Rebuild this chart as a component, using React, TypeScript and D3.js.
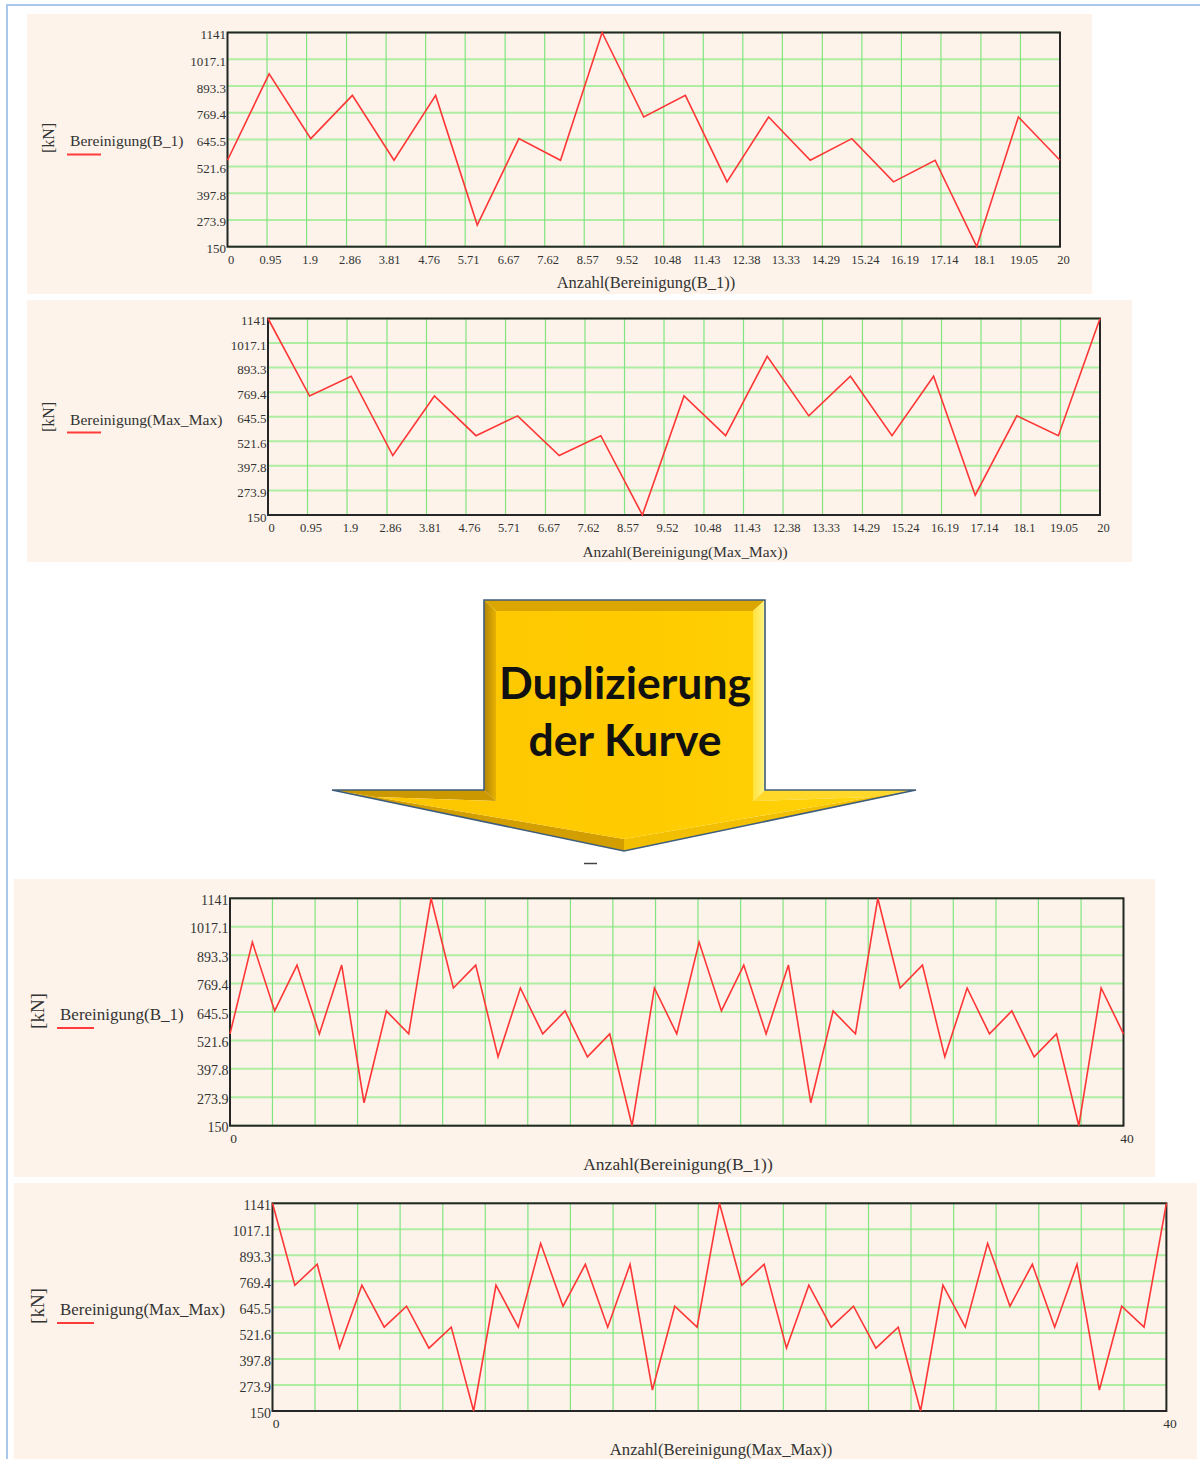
import React from "react";
import * as d3 from "d3";

// ---------- data ----------
const Y_TICKS = [150, 273.9, 397.8, 521.6, 645.5, 769.4, 893.3, 1017.1, 1141];
const Y_TICK_LABELS = ["150", "273.9", "397.8", "521.6", "645.5", "769.4", "893.3", "1017.1", "1141"];

const X_TICKS_20 = [0, 0.95, 1.9, 2.86, 3.81, 4.76, 5.71, 6.67, 7.62, 8.57, 9.52, 10.48, 11.43, 12.38, 13.33, 14.29, 15.24, 16.19, 17.14, 18.1, 19.05, 20];
const X_TICK_LABELS_20 = ["0", "0.95", "1.9", "2.86", "3.81", "4.76", "5.71", "6.67", "7.62", "8.57", "9.52", "10.48", "11.43", "12.38", "13.33", "14.29", "15.24", "16.19", "17.14", "18.1", "19.05", "20"];

const X_GRID_40 = [0, 1.9, 3.81, 5.71, 7.62, 9.52, 11.43, 13.33, 15.24, 17.14, 19.05, 20.95, 22.86, 24.76, 26.67, 28.57, 30.48, 32.38, 34.29, 36.19, 38.1, 40];
const X_TICKS_40 = [0, 40];
const X_TICK_LABELS_40 = ["0", "40"];

const BEREINIGUNG_B1 = [550, 950, 650, 850, 550, 850, 250, 650, 550, 1141, 750, 850, 450, 750, 550, 650, 450, 550, 150, 750, 550];
const BEREINIGUNG_MAXMAX = [1141, 750, 850, 450, 750, 550, 650, 450, 550, 150, 750, 550, 950, 650, 850, 550, 850, 250, 650, 550, 1141];

const BEREINIGUNG_B1_DUP = [
  550, 950, 650, 850, 550, 850, 250, 650, 550, 1141, 750, 850, 450, 750, 550, 650, 450, 550, 150, 750, 550,
  950, 650, 850, 550, 850, 250, 650, 550, 1141, 750, 850, 450, 750, 550, 650, 450, 550, 150, 750, 550,
];
const BEREINIGUNG_MAXMAX_DUP = [
  1141, 750, 850, 450, 750, 550, 650, 450, 550, 150, 750, 550, 950, 650, 850, 550, 850, 250, 650, 550, 1141,
  750, 850, 450, 750, 550, 650, 450, 550, 150, 750, 550, 950, 650, 850, 550, 850, 250, 650, 550, 1141,
];

const LEGEND_B1 = "Bereinigung(B_1)";
const LEGEND_MAXMAX = "Bereinigung(Max_Max)";
const TITLE_B1 = "Anzahl(Bereinigung(B_1))";
const TITLE_MAXMAX = "Anzahl(Bereinigung(Max_Max))";
const UNIT = "[kN]";
const ARROW_LINES = ["Duplizierung", "der Kurve"];

// ---------- layout ----------
const SERIF = "'Liberation Serif', 'Times New Roman', serif";

type PanelCfg = {
  bg: { x: number; y: number; w: number; h: number };
  plot: { x0: number; x1: number; y0: number; y1: number };
  xMax: number;
  values: number[];
  grid: number[];
  xTicks: number[];
  xTickLabels: string[];
  legend: string;
  title: string;
  unit: { x: number; y: number; size: number };
  leg: { x: number; y: number; size: number; l0: number; l1: number; ly: number };
  yTickSize: number;
  xTickSize: number;
  xTickY: number;
  titlePos: { x: number; y: number; size: number };
};

const PANELS: PanelCfg[] = [
  {
    bg: { x: 27, y: 14, w: 1065, h: 280 },
    plot: { x0: 227.5, x1: 1060, y0: 32.5, y1: 246.7 },
    xMax: 20,
    values: BEREINIGUNG_B1,
    grid: X_TICKS_20,
    xTicks: X_TICKS_20,
    xTickLabels: X_TICK_LABELS_20,
    legend: LEGEND_B1,
    title: TITLE_B1,
    unit: { x: 48, y: 138, size: 16 },
    leg: { x: 70, y: 146, size: 15.6, l0: 67, l1: 101, ly: 154.5 },
    yTickSize: 13,
    xTickSize: 12.5,
    xTickY: 264,
    titlePos: { x: 646, y: 288, size: 16.5 },
  },
  {
    bg: { x: 27, y: 300, w: 1105, h: 262 },
    plot: { x0: 268, x1: 1100, y0: 318.5, y1: 515 },
    xMax: 20,
    values: BEREINIGUNG_MAXMAX,
    grid: X_TICKS_20,
    xTicks: X_TICKS_20,
    xTickLabels: X_TICK_LABELS_20,
    legend: LEGEND_MAXMAX,
    title: TITLE_MAXMAX,
    unit: { x: 48, y: 417, size: 16 },
    leg: { x: 70, y: 425, size: 15.6, l0: 67, l1: 101, ly: 432.5 },
    yTickSize: 13,
    xTickSize: 12.5,
    xTickY: 532,
    titlePos: { x: 685, y: 557, size: 15.4 },
  },
  {
    bg: { x: 14, y: 879, w: 1141, h: 298 },
    plot: { x0: 230, x1: 1123.5, y0: 898.3, y1: 1125.7 },
    xMax: 40,
    values: BEREINIGUNG_B1_DUP,
    grid: X_GRID_40,
    xTicks: X_TICKS_40,
    xTickLabels: X_TICK_LABELS_40,
    legend: LEGEND_B1,
    title: TITLE_B1,
    unit: { x: 37.5, y: 1011, size: 19 },
    leg: { x: 60, y: 1020, size: 17, l0: 57, l1: 94, ly: 1028 },
    yTickSize: 14,
    xTickSize: 13.5,
    xTickY: 1143,
    titlePos: { x: 678, y: 1170, size: 17.5 },
  },
  {
    bg: { x: 14, y: 1183, w: 1183, h: 276 },
    plot: { x0: 272.5, x1: 1166.4, y0: 1203.3, y1: 1411 },
    xMax: 40,
    values: BEREINIGUNG_MAXMAX_DUP,
    grid: X_GRID_40,
    xTicks: X_TICKS_40,
    xTickLabels: X_TICK_LABELS_40,
    legend: LEGEND_MAXMAX,
    title: TITLE_MAXMAX,
    unit: { x: 37.5, y: 1306, size: 19 },
    leg: { x: 60, y: 1315, size: 16.9, l0: 57, l1: 94, ly: 1323 },
    yTickSize: 14,
    xTickSize: 13.5,
    xTickY: 1428,
    titlePos: { x: 721, y: 1455, size: 16.7 },
  },
];

function Panel({ cfg }: { cfg: PanelCfg }) {
  const x = d3.scaleLinear().domain([0, cfg.xMax]).range([cfg.plot.x0, cfg.plot.x1]);
  const y = d3.scaleLinear().domain([150, 1141]).range([cfg.plot.y1, cfg.plot.y0]);
  const line = d3
    .line<number>()
    .x((_, i) => x(i))
    .y((d) => y(d));
  const { x0, x1, y0, y1 } = cfg.plot;
  return (
    <g>
      <rect x={cfg.bg.x} y={cfg.bg.y} width={cfg.bg.w} height={cfg.bg.h} fill="#fdf3ea" />
      {/* grid */}
      {Y_TICKS.map((t, i) => (
        <line key={"h" + i} x1={x0} x2={x1} y1={y(t)} y2={y(t)} stroke="#aeeea2" strokeWidth={2} />
      ))}
      {cfg.grid.map((t, i) => (
        <line key={"v" + i} x1={x(t)} x2={x(t)} y1={y0} y2={y1} stroke="#80e580" strokeWidth={1.2} />
      ))}
      {/* frame */}
      <rect x={x0} y={y0} width={x1 - x0} height={y1 - y0} fill="none" stroke="#262626" strokeWidth={2} />
      {/* y tick labels */}
      {Y_TICKS.map((t, i) => (
        <text
          key={"yl" + i}
          x={x0 - 1.5}
          y={y(t) + 6.5}
          textAnchor="end"
          fontFamily={SERIF}
          fontSize={cfg.yTickSize}
          fill="#333"
        >
          {Y_TICK_LABELS[i]}
        </text>
      ))}
      {/* x tick labels */}
      {cfg.xTicks.map((t, i) => (
        <text
          key={"xl" + i}
          x={x(t) + 3.5}
          y={cfg.xTickY}
          textAnchor="middle"
          fontFamily={SERIF}
          fontSize={cfg.xTickSize}
          fill="#333"
        >
          {cfg.xTickLabels[i]}
        </text>
      ))}
      {/* axis title */}
      <text
        x={cfg.titlePos.x}
        y={cfg.titlePos.y}
        textAnchor="middle"
        fontFamily={SERIF}
        fontSize={cfg.titlePos.size}
        fill="#333"
      >
        {cfg.title}
      </text>
      {/* unit */}
      <text
        transform={`translate(${cfg.unit.x},${cfg.unit.y}) rotate(-90)`}
        textAnchor="middle"
        dominantBaseline="central"
        fontFamily={SERIF}
        fontSize={cfg.unit.size}
        fill="#333"
      >
        {UNIT}
      </text>
      {/* legend */}
      <text x={cfg.leg.x} y={cfg.leg.y} fontFamily={SERIF} fontSize={cfg.leg.size} fill="#333">
        {cfg.legend}
      </text>
      <line x1={cfg.leg.l0} x2={cfg.leg.l1} y1={cfg.leg.ly} y2={cfg.leg.ly} stroke="#ff3b3b" strokeWidth={2.2} />
      {/* series */}
      <path d={line(cfg.values) || ""} fill="none" stroke="#ff3636" strokeWidth={1.6} strokeLinejoin="miter" />
    </g>
  );
}

function Arrow() {
  // outer shape
  const A = [484, 600], B = [765, 600], C = [765, 790], D = [916, 790], E = [624, 851], F = [332, 790], G = [484, 790];
  // inner (bevel) shape
  const a = [496, 611], b = [753, 611], c = [753, 801], d = [872, 797], e = [624, 839], f = [376, 797], g = [496, 801];
  const pts = (arr: number[][]) => arr.map((p) => p.join(",")).join(" ");
  return (
    <g>
      <defs>
        <linearGradient id="leftFace" x1="0" x2="1" y1="0" y2="0">
          <stop offset="0" stopColor="#b08408" />
          <stop offset="1" stopColor="#e8b200" />
        </linearGradient>
        <linearGradient id="rightFace" x1="0" x2="1" y1="0" y2="0">
          <stop offset="0" stopColor="#ffe23a" />
          <stop offset="1" stopColor="#fff488" />
        </linearGradient>
        <linearGradient id="centerFace" x1="0" x2="1" y1="0" y2="0">
          <stop offset="0" stopColor="#fdc600" />
          <stop offset="0.6" stopColor="#ffcc00" />
          <stop offset="1" stopColor="#ffd30a" />
        </linearGradient>
      </defs>
      <polygon points={pts([A, B, b, a])} fill="#dca600" />
      <polygon points={pts([A, a, g, G])} fill="url(#leftFace)" />
      <polygon points={pts([B, C, c, b])} fill="url(#rightFace)" />
      <polygon points={pts([G, g, f, F])} fill="#cc9800" />
      <polygon points={pts([C, D, d, c])} fill="#ffd82a" />
      <polygon points={pts([F, f, e, E])} fill="#d29e00" />
      <polygon points={pts([D, E, e, d])} fill="#f2c000" />
      <polygon points={pts([a, b, c, d, e, f, g])} fill="url(#centerFace)" />
      <polygon points={pts([A, B, C, D, E, F, G])} fill="none" stroke="#3f5d7c" strokeWidth={1.6} strokeLinejoin="miter" />
      <text x={625} y={699} textAnchor="middle" fontFamily="Lato, 'Open Sans', sans-serif" fontWeight={700} fontSize={44.5} fill="#111">
        {ARROW_LINES[0]}
      </text>
      <text x={625} y={756} textAnchor="middle" fontFamily="Lato, 'Open Sans', sans-serif" fontWeight={700} fontSize={44.5} fill="#111">
        {ARROW_LINES[1]}
      </text>
      <line x1={584} x2={597} y1={863.5} y2={863.5} stroke="#444" strokeWidth={1.5} />
    </g>
  );
}

export default function App() {
  return (
    <svg
      width={1200}
      height={1459}
      viewBox="0 0 1200 1459"
      style={{ position: "absolute", left: 0, top: 0, background: "#ffffff" }}
    >
      <rect x={0} y={0} width={1200} height={1459} fill="#ffffff" />
      {/* page frame (light blue) */}
      <line x1={6.5} x2={1200} y1={5} y2={5} stroke="#a9c8ec" strokeWidth={2} />
      <line x1={7} x2={7} y1={4} y2={1459} stroke="#a9c8ec" strokeWidth={2} />
      {PANELS.map((p, i) => (
        <Panel key={i} cfg={p} />
      ))}
      <Arrow />
    </svg>
  );
}
